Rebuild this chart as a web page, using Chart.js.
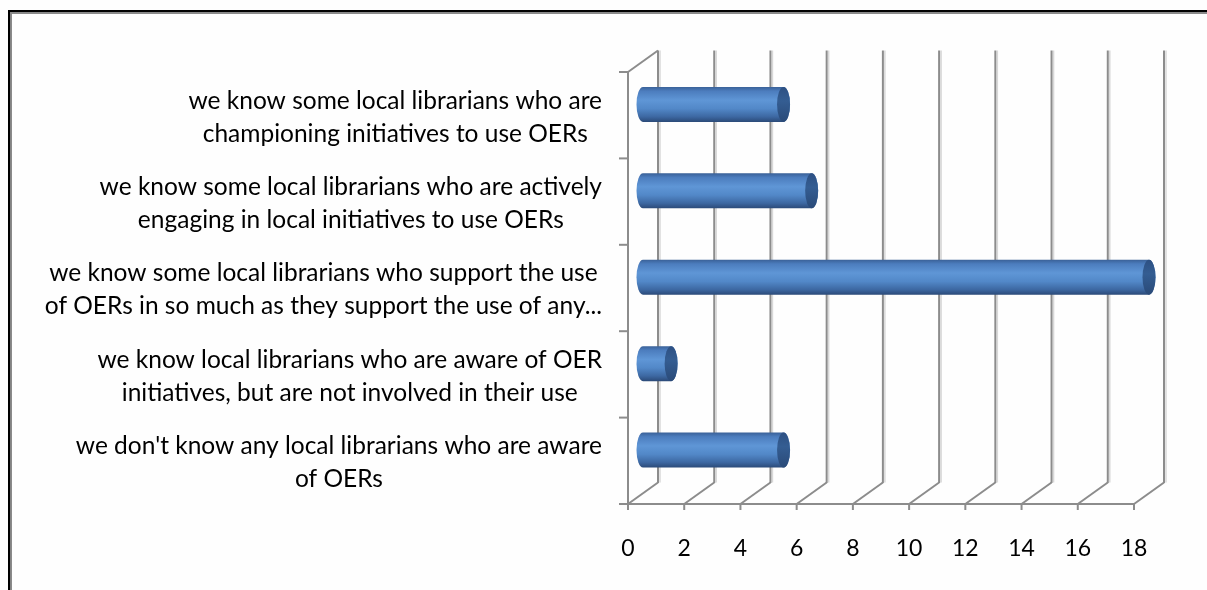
<!DOCTYPE html>
<html><head><meta charset="utf-8">
<script src="https://cdn.jsdelivr.net/npm/chart.js@4.4.1/dist/chart.umd.min.js"></script>
<style>html,body{margin:0;padding:0;background:#fff}#wrap{width:1207px;height:590px;position:relative}</style>
</head><body><div id="wrap"><canvas id="c"></canvas></div>
<script>
const categories = [
  ["we know some local librarians who are", "championing initiatives to use OERs"],
  ["we know some local librarians who are actively", "engaging in local initiatives to use OERs"],
  ["we know some local librarians who support the use", "of OERs in so much as they support the use of any..."],
  ["we know local librarians who are aware of OER", "initiatives, but are not involved in their use"],
  ["we don't know any local librarians who are aware", "of OERs"]
];
const values = [5, 6, 18, 1, 5];
const xTickValues = [0, 2, 4, 6, 8, 10, 12, 14, 16, 18];

const FONT = 'Lato';
const DX = 30, DY = -21.5;

function seg(ctx, x1, y1, x2, y2) { ctx.beginPath(); ctx.moveTo(x1, y1); ctx.lineTo(x2, y2); ctx.stroke(); }

const deco = {
  id: 'deco',
  beforeDraw(chart) {
    const ctx = chart.ctx, W = chart.width, H = chart.height;
    ctx.save();
    ctx.fillStyle = '#fefefe'; ctx.fillRect(0, 0, W, H);
    ctx.fillStyle = '#000';
    ctx.fillRect(8, 10, 2.5, H - 10);
    ctx.fillRect(8, 10, W - 8, 2);
    ctx.fillStyle = '#8a8a8a';
    ctx.fillRect(10.5, 12, 1.5, H - 12);
    ctx.fillRect(10.5, 12, W - 10.5, 2);
    ctx.restore();
  },
  beforeDatasetsDraw(chart) {
    const { ctx, chartArea: a, scales: { x, y } } = chart;
    ctx.save();
    x.ticks.forEach(t => {
      const px = x.getPixelForValue(t.value);
      ctx.strokeStyle = '#d8d8d8'; ctx.lineWidth = 1.5;
      seg(ctx, px + DX + 2, a.bottom + DY, px + DX + 2, a.top + DY);
      ctx.strokeStyle = '#8c8c8c'; ctx.lineWidth = 2;
      seg(ctx, px + DX, a.bottom + DY + 0.5, px + DX, a.top + DY);
      seg(ctx, px, a.bottom, px + DX, a.bottom + DY);
      seg(ctx, px, a.bottom, px, a.bottom + 6);
    });
    seg(ctx, a.left - 9, a.bottom, a.right, a.bottom);
    seg(ctx, a.left, a.top, a.left, a.bottom);
    seg(ctx, a.left, a.top, a.left + DX, a.top + DY);
    for (let i = 0; i <= categories.length; i++) {
      const py = y.getPixelForValue(i - 0.5);
      seg(ctx, a.left - 9, py, a.left, py);
    }
    ctx.restore();
  },
  afterDatasetsDraw(chart) {
    const ctx = chart.ctx;
    const meta = chart.getDatasetMeta(0);
    ctx.save();
    meta.data.forEach(el => {
      const p = el.getProps(['x', 'y', 'base', 'height'], true);
      const x0 = p.base + DX / 2, x1 = p.x + DX / 2, yc = p.y + DY / 2, ry = p.height / 2, rx = 6.5;
      const g = ctx.createLinearGradient(0, yc - ry, 0, yc + ry);
      g.addColorStop(0, '#3a6198');
      g.addColorStop(0.12, '#4c7dbe');
      g.addColorStop(0.38, '#5f96d6');
      g.addColorStop(0.62, '#5288c8');
      g.addColorStop(0.85, '#3d68a2');
      g.addColorStop(1, '#2b4a78');
      ctx.beginPath();
      ctx.moveTo(x1, yc - ry);
      ctx.lineTo(x0, yc - ry);
      ctx.ellipse(x0, yc, rx, ry, 0, -Math.PI / 2, Math.PI / 2, true);
      ctx.lineTo(x1, yc + ry);
      ctx.ellipse(x1, yc, rx, ry, 0, Math.PI / 2, -Math.PI / 2, true);
      ctx.closePath();
      ctx.fillStyle = g; ctx.fill();
      const gc = ctx.createLinearGradient(0, yc - ry, 0, yc + ry);
      gc.addColorStop(0, '#2d5083');
      gc.addColorStop(0.4, '#345d92');
      gc.addColorStop(1, '#2a4a78');
      ctx.beginPath();
      ctx.ellipse(x1, yc, rx, ry, 0, 0, Math.PI * 2);
      ctx.fillStyle = gc; ctx.fill();
    });
    ctx.restore();
  },
  afterDraw(chart) {
    const { ctx, chartArea: a, scales: { y } } = chart;
    ctx.save();
    ctx.font = '24.5px ' + FONT;
    ctx.fillStyle = '#000';
    ctx.textAlign = 'center';
    ctx.textBaseline = 'middle';
    categories.forEach((lines, i) => {
      const cy = y.getPixelForValue(i) + 2;
      const widest = Math.max(...lines.map(l => ctx.measureText(l).width));
      const cx = a.left - 26 - widest / 2;
      const lh = 33, y0 = cy - (lines.length - 1) * lh / 2;
      lines.forEach((l, j) => ctx.fillText(l, cx, y0 + j * lh));
    });
    ctx.restore();
  }
};

new Chart(document.getElementById('c'), {
  type: 'bar',
  data: {
    labels: categories,
    datasets: [{ data: values, backgroundColor: 'rgba(0,0,0,0)', borderWidth: 0,
      categoryPercentage: 1, barPercentage: 0.405 }]
  },
  options: {
    indexAxis: 'y',
    responsive: true, maintainAspectRatio: false, animation: false, devicePixelRatio: 1,
    layout: { padding: { left: 628, right: 73, top: 72, bottom: 29 } },
    plugins: { legend: { display: false }, tooltip: { enabled: false } },
    scales: {
      x: {
        min: 0, max: 18,
        afterBuildTicks: s => { s.ticks = xTickValues.map(v => ({ value: v })); },
        afterFit: s => { s.height = 57; },
        grid: { display: false, drawTicks: false }, border: { display: false },
        ticks: { color: '#000', font: { family: FONT, size: 23 }, padding: 31, maxRotation: 0, autoSkip: false }
      },
      y: { display: false }
    }
  },
  plugins: [deco]
});
</script>
</body></html>
